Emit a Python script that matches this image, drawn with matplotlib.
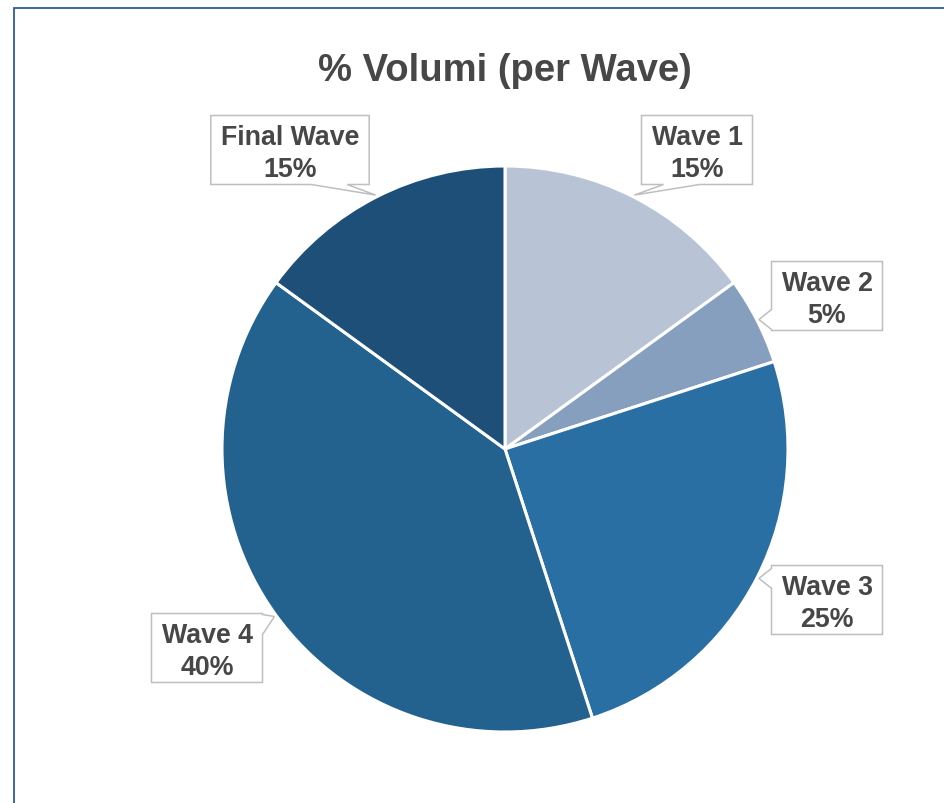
import matplotlib.pyplot as plt
from matplotlib.patches import Polygon, Rectangle
import numpy as np

plt.rcParams['font.family'] = ['Liberation Sans', 'DejaVu Sans']

labels = ['Wave 1', 'Wave 2', 'Wave 3', 'Wave 4', 'Final Wave']
shares = [15, 5, 25, 40, 15]
colors = ['#B8C4D6', '#879FBF', '#296FA3', '#23618F', '#1E4F78']

# label box centres (pixels from top-left) and the side the pointer leaves from
label_pos = [(697, 151), (827, 297), (827, 601), (207, 649), (290, 151)]
label_side = ['bottom', 'left', 'left', 'right', 'bottom']

W, H = 944, 804
text_col = '#474747'

fig = plt.figure(figsize=(W / 100, H / 100), dpi=100)
ax = fig.add_axes([0, 0, 1, 1])

cx, cy, r = 505, H - 450, 283
wedges, _ = ax.pie(shares, colors=colors, startangle=90, counterclock=False,
                   center=(cx, cy), radius=r,
                   wedgeprops=dict(edgecolor='white', linewidth=2.2))
ax.set_xlim(0, W)
ax.set_ylim(0, H)
ax.axis('off')

# chart frame (left and top edges visible)
ax.add_patch(Rectangle((14, -20), 1000, H - 9 + 20, fill=False,
                       edgecolor='#2A5E9C', linewidth=1.3))

ax.text(505, H - 71, '% Volumi (per Wave)', ha='center', va='center',
        fontsize=27.5, fontweight='bold', color=text_col)

texts = []
for lab, val, (px, py) in zip(labels, shares, label_pos):
    # text sits a few pixels lower than the box centre
    t = ax.text(px, H - py - 3, f'{lab}\n{val}%', ha='center', va='center',
                ma='center', fontsize=19.3, fontweight='bold', color=text_col,
                linespacing=1.28, zorder=5)
    texts.append(t)

fig.canvas.draw()
renderer = fig.canvas.get_renderer()


def clamp(v, lo, hi):
    return max(lo, min(hi, v))


for w, t, side, (px, py) in zip(wedges, texts, label_side, label_pos):
    ext = t.get_window_extent(renderer)
    bw = ext.width + 20
    bh = 69
    x0, x1 = px - bw / 2, px + bw / 2
    y0, y1 = H - py - bh / 2, H - py + bh / 2
    mid = np.deg2rad((w.theta1 + w.theta2) / 2)
    tx, ty = cx + (r + 2) * np.cos(mid), cy + (r + 2) * np.sin(mid)
    if side == 'bottom':
        c = clamp(tx, x0 + 40, x1 - 40)
        pts = [(x0, y0), (c - 18, y0), (tx, ty), (c + 18, y0),
               (x1, y0), (x1, y1), (x0, y1)]
    elif side == 'left':
        c = clamp(ty, y0 + 11, y1 - 11)
        pts = [(x0, y1), (x0, c + 10), (tx, ty), (x0, c - 10),
               (x0, y0), (x1, y0), (x1, y1)]
    else:
        c = clamp(ty, y0 + 11, y1 - 11)
        pts = [(x1, y0), (x1, c - 10), (tx, ty), (x1, c + 10),
               (x1, y1), (x0, y1), (x0, y0)]
    ax.add_patch(Polygon(pts, closed=True, facecolor='white',
                         edgecolor='#BFBFBF', linewidth=1.1, zorder=4))

fig.savefig('out.png', dpi=100)
